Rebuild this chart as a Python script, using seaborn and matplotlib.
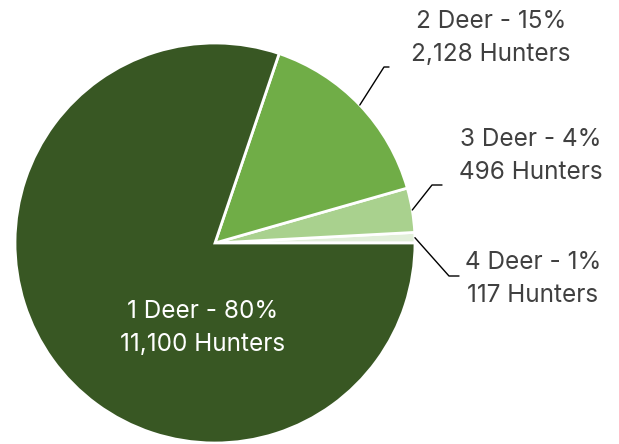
import numpy as np
import seaborn as sns
import matplotlib.pyplot as plt

sns.set_theme(style="white")
plt.rcParams['font.family'] = ['Inter', 'DejaVu Sans']

categories = ['4 Deer', '3 Deer', '2 Deer', '1 Deer']
hunters = [117, 496, 2128, 11100]
percent_labels = ['1%', '4%', '15%', '80%']
colors = ['#E2EFDA', '#A9D18E', '#70AD47', '#385723']

fig = plt.figure(figsize=(6.19, 4.44), dpi=100)
ax = fig.add_axes([0, 0, 1, 1])

cx, cy, r = 215, 201, 200
wedges, _ = ax.pie(hunters, colors=colors, startangle=0, counterclock=True,
                   center=(cx, cy), radius=r, frame=True,
                   wedgeprops=dict(edgecolor='white', linewidth=2))
ax.set_xlim(0, 619)
ax.set_ylim(0, 444)
ax.set_axis_off()

# label layout: (elbow, line end, text center) for outer labels
layout = {
    '2 Deer': ((384, 377), (389, 377), (491, 406)),
    '3 Deer': ((432, 259), (442, 259), (531, 288)),
    '4 Deer': ((449, 168), (459, 168), (533, 165)),
}

fs = 17.5
ls = 1.6
for w, cat, n, pct in zip(wedges, categories, hunters, percent_labels):
    text = f"{cat} - {pct}\n{n:,} Hunters"
    if cat == '1 Deer':
        ax.text(203, 116, text, ha='center', va='center', color='white',
                fontsize=fs, linespacing=ls)
        continue
    mid = np.deg2rad((w.theta1 + w.theta2) / 2)
    sx, sy = cx + r * np.cos(mid), cy + r * np.sin(mid)
    (ex, ey), (hx, hy), (tx, ty) = layout[cat]
    ax.plot([sx, ex, hx], [sy, ey, hy], color='black', linewidth=1)
    ax.text(tx, ty, text, ha='center', va='center', color='#404040',
            fontsize=fs, linespacing=ls)

fig.savefig('out.png', dpi=100)
